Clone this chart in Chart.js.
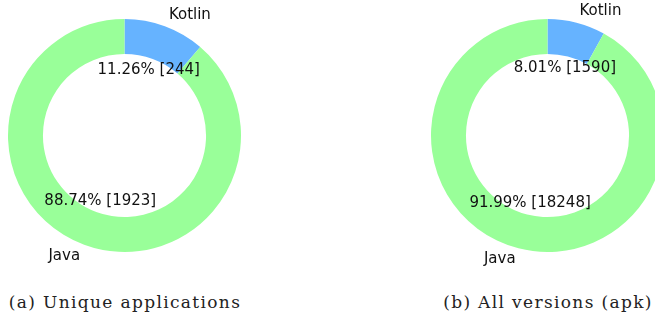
<!DOCTYPE html>
<html>
<head>
<meta charset="utf-8">
<script src="https://cdn.jsdelivr.net/npm/chart.js@4"></script>
<style>
  html, body { margin: 0; padding: 0; background: #fff; }
  body { width: 655px; height: 315px; position: relative; overflow: hidden; }
  .box { position: absolute; top: 0; height: 271px; }
  .caption {
    position: absolute; top: 292px; font-family: 'DejaVu Serif', serif;
    font-size: 17px; line-height: 20px; letter-spacing: 1.35px; color: #222;
    white-space: nowrap; transform: translateX(-50%);
  }
</style>
</head>
<body>
<div class="box" style="left:0px;width:249px"><canvas id="left"></canvas></div>
<div class="box" style="left:425px;width:245px"><canvas id="right"></canvas></div>
<div class="caption" id="capA" style="left:125px"></div>
<div class="caption" id="capB" style="left:548px"></div>
<script>
const categories = ['Kotlin', 'Java'];
const uniqueApps = [244, 1923];
const allVersions = [1590, 18248];
const captions = ['(a) Unique applications', '(b) All versions (apk)'];

const colors = ['#66b3ff', '#99ff99'];

// matplotlib-like pie labels: names outside, pct + count inside the ring
const pieLabels = {
  id: 'pieLabels',
  afterDatasetsDraw(chart) {
    const ctx = chart.ctx;
    const meta = chart.getDatasetMeta(0);
    const values = chart.data.datasets[0].data;
    const total = values.reduce((a, b) => a + b, 0);
    ctx.save();
    ctx.fillStyle = '#111';
    ctx.font = '15px "DejaVu Sans"';
    ctx.textBaseline = 'middle';
    meta.data.forEach((arc, i) => {
      const mid = (arc.startAngle + arc.endAngle) / 2;
      const r = arc.outerRadius;
      const cx = Math.cos(mid), cy = Math.sin(mid);
      ctx.textAlign = cx > 0 ? 'left' : 'right';
      ctx.fillText(chart.data.labels[i], arc.x + cx * r * 1.1, arc.y + cy * r * 1.1);
      ctx.textAlign = 'center';
      const pct = (values[i] / total * 100).toFixed(2);
      ctx.fillText(`${pct}% [${values[i]}]`, arc.x + cx * r * 0.6, arc.y + cy * r * 0.6);
    });
    ctx.restore();
  }
};

const makeChart = (id, values, padX, padY) => new Chart(document.getElementById(id), {
  type: 'doughnut',
  data: {
    labels: categories,
    datasets: [{ data: values, backgroundColor: colors, borderWidth: 0, hoverOffset: 0 }]
  },
  options: {
    responsive: true,
    maintainAspectRatio: false,
    animation: false,
    cutout: '70%',
    layout: { padding: { left: padX, right: padX, top: padY, bottom: padY } },
    plugins: { legend: { display: false }, tooltip: { enabled: false } }
  },
  plugins: [pieLabels]
});

makeChart('left', uniqueApps, 8, 19);
makeChart('right', allVersions, 6, 19);

document.getElementById('capA').textContent = captions[0];
document.getElementById('capB').textContent = captions[1];
</script>
</body>
</html>
